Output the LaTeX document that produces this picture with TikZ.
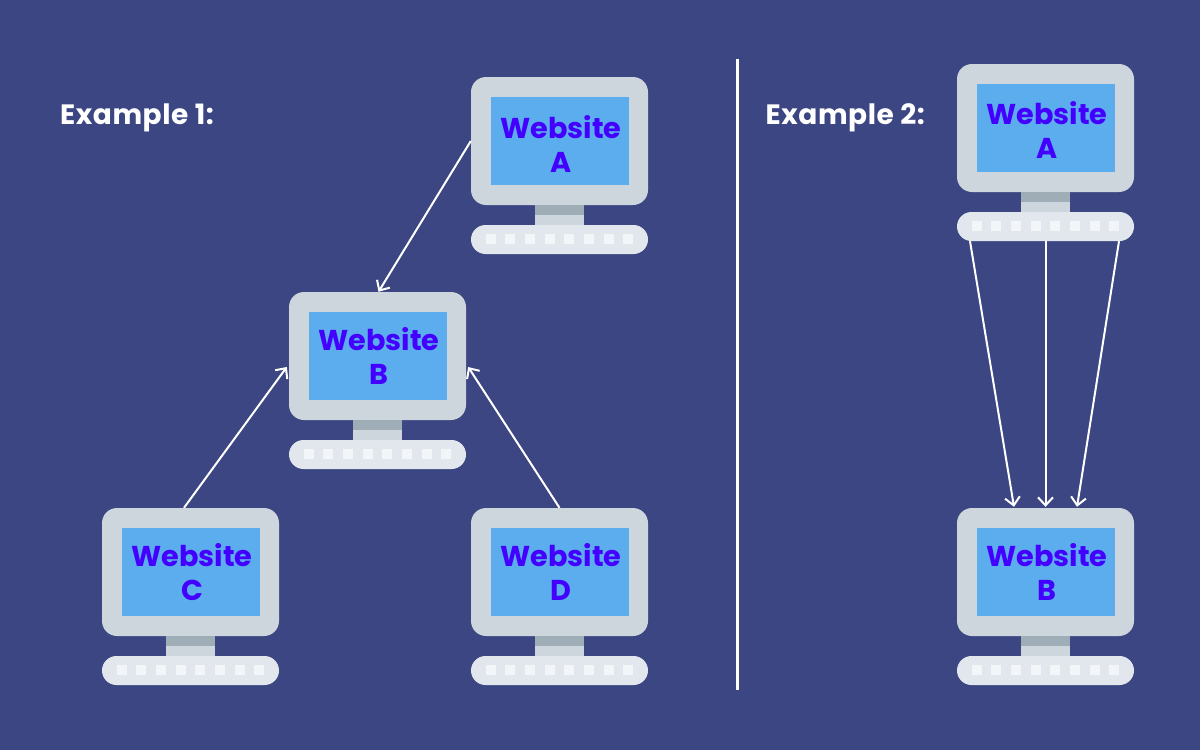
\documentclass[tikz,border=0pt]{standalone}
\usepackage{fontspec}
\setmainfont{Poppins}
\usetikzlibrary{arrows.meta,calc}
\definecolor{bgblue}{HTML}{3B4682}
\definecolor{monitorgrey}{HTML}{CCD6DC}
\definecolor{screenblue}{HTML}{5CADEE}
\definecolor{labelblue}{HTML}{4400FF}
\definecolor{standdark}{HTML}{9FAEB6}
\definecolor{keyboardgrey}{HTML}{E1E7ED}
\definecolor{keywhite}{HTML}{F3F6F9}
\tikzset{
  monitorbox/.style={fill=monitorgrey,rounded corners=15pt,minimum width=177pt,minimum height=128pt,inner sep=0pt},
  screenbox/.style={fill=screenblue,minimum width=138pt,minimum height=88pt,inner sep=0pt},
  labeltext/.style={inner sep=0pt,text=labelblue,align=center,font=\fontsize{28.7}{34}\selectfont\bfseries},
  standbox/.style={fill=monitorgrey,minimum width=49pt,minimum height=20pt,inner sep=0pt},
  standshade/.style={fill=standdark,minimum width=49pt,minimum height=10pt,inner sep=0pt},
  keyboardbox/.style={fill=keyboardgrey,rounded corners=14.5pt,minimum width=177pt,minimum height=29pt,inner sep=0pt},
  keybox/.style={fill=keywhite,minimum width=10pt,minimum height=10pt,inner sep=0pt},
  heading/.style={text=white,anchor=base west,inner sep=0pt,font=\fontsize{28}{30}\selectfont\bfseries\addfontfeature{LetterSpace=2}},
  link/.style={draw=white,line width=2pt,-{Straight Barb[length=8pt,width=15pt,line width=2pt]}},
}
% #1 name, #2 centre x, #3 monitor top y, #4 letter, #5 label offset
\newcommand{\computer}[5]{%
  \node[monitorbox] (mon#1) at (#2,#3+64) {};
  \node[screenbox] (scr#1) at (#2,#3+64) {};
  \node[labeltext] (lab#1) at (#2+1.5,#3+64+#5) {Website\\#4};
  \node[standbox] (stand#1) at (#2,#3+138) {};
  \node[standshade] (shade#1) at (#2,#3+133) {};
  \node[keyboardbox] (kbd#1) at (#2,#3+162.5) {};
  \foreach \k in {0,...,7}{
    \node[keybox] (key#1\k) at ({#2-69+19.7*\k},#3+162) {};
  }
}
\begin{document}
\begin{tikzpicture}[x=1pt,y=-1pt]
\useasboundingbox (0,0) rectangle (1200,750);
\fill[bgblue] (0,0) rectangle (1200,750);
\computer{A}{559.5}{77}{A}{3}
\computer{B}{377.5}{292}{B}{0}
\computer{C}{190.5}{508}{C}{0}
\computer{D}{559.5}{508}{D}{0}
\computer{E}{1045.5}{64}{A}{2.5}
\computer{F}{1045.5}{508}{B}{0}
\node[heading] (ex1) at (60,124) {Example 1:};
\node[heading] (ex2) at (765.5,124) {Example 2:};
\coordinate (divtop) at (737.5,59);
\coordinate (divbot) at (737.5,690);
\draw[white,line width=2.5pt] (divtop) -- (divbot);
\draw[link] (monA.west) -- ([xshift=1pt]monB.north);
\draw[link] ([xshift=-6.5pt]monC.north) -- ([xshift=-2pt,yshift=-11pt]monB.west);
\draw[link] (monD.north) -- ([xshift=2pt,yshift=-11pt]monB.east);
\draw[link] ([xshift=-75.5pt]kbdE.south) -- ([xshift=-31.5pt,yshift=1pt]monF.north);
\draw[link] (kbdE.south) -- ([yshift=1pt]monF.north);
\draw[link] ([xshift=73.5pt]kbdE.south) -- ([xshift=31.5pt,yshift=1pt]monF.north);
\end{tikzpicture}
\end{document}
